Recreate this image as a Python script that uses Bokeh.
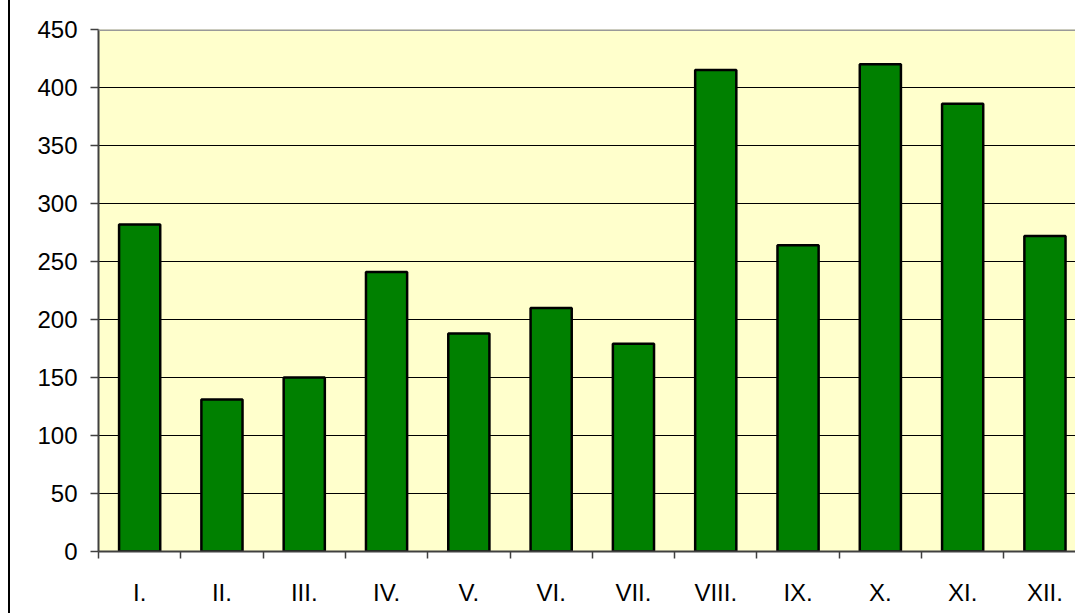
from bokeh.plotting import figure
from bokeh.models import Range1d, FixedTicker, Span
from bokeh.embed import file_html
from bokeh.resources import INLINE

months = ["I.", "II.", "III.", "IV.", "V.", "VI.", "VII.", "VIII.", "IX.", "X.", "XI.", "XII."]
values = [282, 131, 150, 241, 188, 210, 179, 415, 264, 420, 386, 272]
y_ticks = [0, 50, 100, 150, 200, 250, 300, 350, 400, 450]

FONT = "Liberation Sans"
cat_px = 82.3
left_border = 88
fig_w = 1067
frame_w = fig_w - left_border

p = figure(width=fig_w, height=613, output_backend="svg", toolbar_location=None,
           x_range=Range1d(0, frame_w / cat_px), y_range=Range1d(0, 450),
           min_border_left=left_border, min_border_right=0,
           min_border_top=29, min_border_bottom=62)
p.styles = {"margin-left": "8px", "border-left": "2px solid black"}
p.background_fill_color = "#FFFFCC"
p.border_fill_color = "white"
p.outline_line_color = None

centers = [i + 0.5 for i in range(len(months))]
p.vbar(x=centers, top=values, width=0.5, bottom=0,
       fill_color="#008000", line_color="black", line_width=2.5)

# grid
p.xgrid.visible = False
p.ygrid.ticker = FixedTicker(ticks=y_ticks[1:-1])
p.ygrid.grid_line_color = "black"
p.ygrid.grid_line_width = 1

# top border of plot area
p.add_layout(Span(location=450, dimension="width", line_color="#999999", line_width=3))

# y axis
p.yaxis.ticker = FixedTicker(ticks=y_ticks)
p.yaxis.axis_line_color = "#404040"
p.yaxis.axis_line_width = 2
p.yaxis.major_tick_line_color = "#404040"
p.yaxis.major_tick_line_width = 1.5
p.yaxis.major_tick_out = 8
p.yaxis.major_tick_in = 0
p.yaxis.minor_tick_line_color = None
p.yaxis.major_label_text_font = FONT
p.yaxis.major_label_text_font_size = "24px"
p.yaxis.major_label_text_color = "black"
p.yaxis.major_label_standoff = 13

# x axis
p.xaxis.ticker = FixedTicker(ticks=centers, minor_ticks=list(range(len(months) + 1)))
p.xaxis.major_label_overrides = {c: m for c, m in zip(centers, months)}
p.xaxis.axis_line_color = "#404040"
p.xaxis.axis_line_width = 2
p.xaxis.major_tick_line_color = None
p.xaxis.major_tick_out = 0
p.xaxis.major_tick_in = 0
p.xaxis.minor_tick_line_color = "#404040"
p.xaxis.minor_tick_line_width = 1.5
p.xaxis.minor_tick_out = 7
p.xaxis.minor_tick_in = 0
p.xaxis.major_label_text_font = FONT
p.xaxis.major_label_text_font_size = "24px"
p.xaxis.major_label_text_color = "black"
p.xaxis.major_label_standoff = 20

open("out.html", "w").write(file_html(p, INLINE))
